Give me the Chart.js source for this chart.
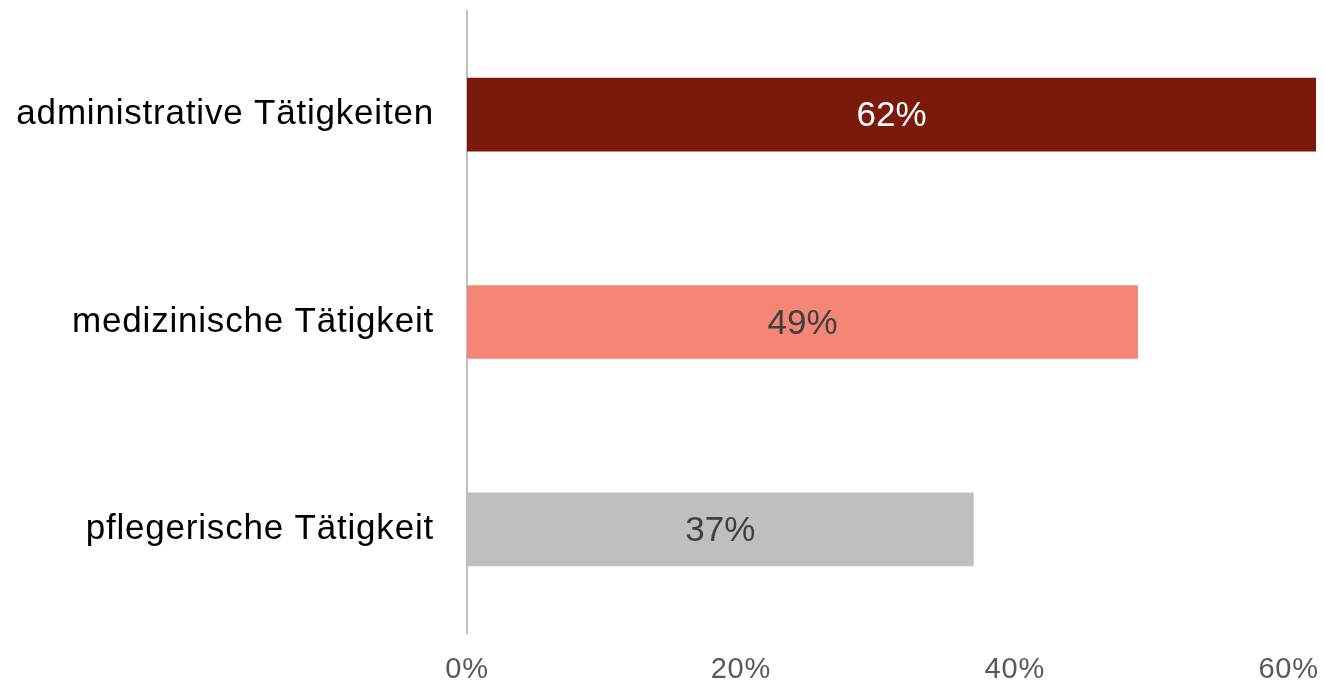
<!DOCTYPE html>
<html>
<head>
<meta charset="utf-8">
<script src="https://cdn.jsdelivr.net/npm/chart.js@4.4.1/dist/chart.umd.min.js"></script>
<style>
  html, body { margin: 0; padding: 0; background: #fff; }
  #wrap { width: 1324px; height: 684px; }
</style>
</head>
<body>
<div id="wrap"><canvas id="chart" width="1324" height="684"></canvas></div>
<script>
// Daten
const categories = ['administrative Tätigkeiten', 'medizinische Tätigkeit', 'pflegerische Tätigkeit'];
const values = [62, 49, 37];
const barColors = ['#7B1A0B', '#F58675', '#BFBFBF'];
const valueLabelColors = ['#FFFFFF', '#404040', '#404040'];
const xTicks = [0, 20, 40, 60];

const FONT = '"Liberation Sans", Arial, sans-serif';

// etwas weitere Laufweite für die Achsenbeschriftung (wie im Original)
const axisLetterSpacing = {
  id: 'axisLetterSpacing',
  beforeDraw(chart) { chart.ctx.letterSpacing = '0.8px'; },
  beforeDatasetsDraw(chart) { chart.ctx.letterSpacing = '0px'; }
};

// Werte mittig in die Balken schreiben (kein datalabels-Plugin offline)
const barValueLabels = {
  id: 'barValueLabels',
  afterDatasetsDraw(chart) {
    const ctx = chart.ctx;
    const meta = chart.getDatasetMeta(0);
    ctx.save();
    ctx.font = '35px ' + FONT;
    ctx.textAlign = 'center';
    ctx.textBaseline = 'middle';
    meta.data.forEach((bar, i) => {
      const { x, y, base } = bar.getProps(['x', 'y', 'base'], true);
      ctx.fillStyle = valueLabelColors[i];
      ctx.fillText(values[i] + '%', (x + base) / 2, y + 2);
    });
    ctx.restore();
  }
};

new Chart(document.getElementById('chart'), {
  type: 'bar',
  data: {
    labels: categories,
    datasets: [{
      data: values,
      backgroundColor: barColors,
      borderWidth: 0,
      barPercentage: 0.71,
      categoryPercentage: 0.5
    }]
  },
  options: {
    indexAxis: 'y',
    responsive: false,
    animation: false,
    layout: { padding: { top: 11, right: 8, left: 0, bottom: 0 } },
    plugins: {
      legend: { display: false },
      tooltip: { enabled: false }
    },
    scales: {
      x: {
        min: 0,
        max: 62,
        grid: { display: false, drawTicks: false },
        border: { display: false },
        afterBuildTicks: (scale) => {
          scale.ticks = xTicks.map(v => ({ value: v }));
        },
        afterFit: (scale) => {
          scale.height = 51;
          scale.paddingLeft = 0;
          scale.paddingRight = 0;
        },
        ticks: {
          padding: 20,
          color: '#595959',
          font: { family: FONT, size: 29 },
          callback: (v) => v + '%',
          maxRotation: 0
        }
      },
      y: {
        grid: { display: false, drawTicks: false },
        border: { display: true, color: '#BFBFBF', width: 2 },
        afterFit: (scale) => {
          scale.width = 467;
          scale.paddingTop = 0;
          scale.paddingBottom = 0;
        },
        ticks: {
          padding: 33,
          color: '#000000',
          font: { family: FONT, size: 35 }
        }
      }
    }
  },
  plugins: [axisLetterSpacing, barValueLabels]
});
</script>
</body>
</html>
